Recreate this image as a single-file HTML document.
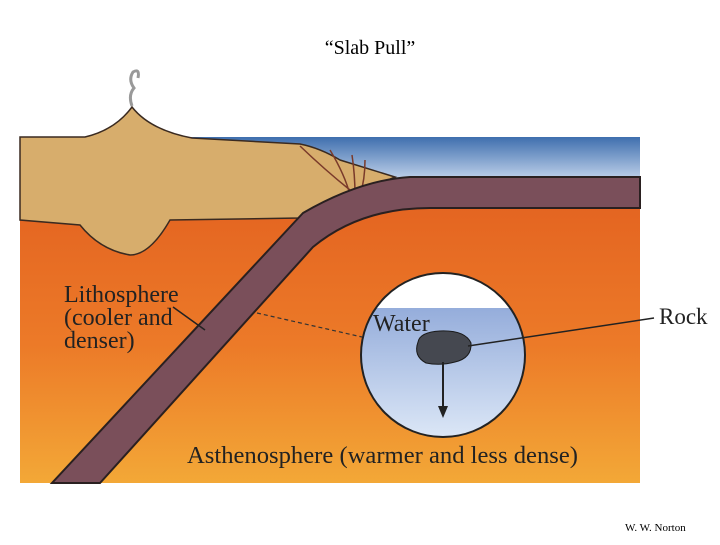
<!DOCTYPE html>
<html><head><style>body{margin:0;background:#fff;width:720px;height:540px;overflow:hidden}</style></head><body>
<svg width="720" height="540" viewBox="0 0 720 540" xmlns="http://www.w3.org/2000/svg">
<defs>
<linearGradient id="orange" x1="0" y1="0" x2="0" y2="1"><stop offset="0" stop-color="#e05a1e"/><stop offset="0.6" stop-color="#ec7a28"/><stop offset="1" stop-color="#f3a837"/></linearGradient>
<linearGradient id="sea" x1="0" y1="0" x2="0" y2="1"><stop offset="0" stop-color="#3f6fae"/><stop offset="1" stop-color="#c8d8ee"/></linearGradient>
<linearGradient id="water" x1="0" y1="0" x2="0" y2="1"><stop offset="0" stop-color="#95addb"/><stop offset="1" stop-color="#dde8f7"/></linearGradient>
<clipPath id="cc"><circle cx="443" cy="355" r="82"/></clipPath>
</defs>
<text x="370" y="54" font-family="Liberation Serif, serif" font-size="20" text-anchor="middle">“Slab Pull”</text>
<rect x="20" y="137" width="620" height="346" fill="url(#orange)"/>
<rect x="192" y="137" width="448" height="45" fill="url(#sea)"/>
<path d="M20,137 L85,137 Q115,130 132,107 Q150,130 192,138 L300,144 Q320,148 340,160 L395,177 L330,205 L300,218 L170,220 Q150,255 130,255 Q100,250 80,225 L20,220 Z" fill="#d7ad6c" stroke="#3a2a20" stroke-width="1.5"/>
<path d="M300,146 Q325,170 350,190 M330,150 Q345,175 350,195 M352,155 Q355,175 355,195 M365,160 Q365,180 360,195" stroke="#7a3a2a" stroke-width="1.5" fill="none"/>
<path d="M132,106 Q128,95 134,88 Q128,80 133,72 Q140,68 138,78" stroke="#999" stroke-width="3" fill="none"/>
<path d="M640,177 L410,177 Q360,180 303,213 L52,483 L100,483 L313,247 Q360,208 430,208 L640,208 Z" fill="#7a4f5a" stroke="#2a2020" stroke-width="2"/>
<g clip-path="url(#cc)"><rect x="360" y="270" width="170" height="170" fill="#fff"/><rect x="360" y="308" width="170" height="132" fill="url(#water)"/></g>
<circle cx="443" cy="355" r="82" fill="none" stroke="#222" stroke-width="2"/>
<path d="M418,342 Q420,332 440,331 Q465,330 471,343 Q472,358 455,362 Q440,366 426,363 Q413,356 418,342 Z" fill="#454850" stroke="#1a1a1a"/>
<line x1="443" y1="362" x2="443" y2="408" stroke="#222" stroke-width="2"/>
<polygon points="438,406 448,406 443,418" fill="#222"/>
<line x1="468" y1="346" x2="654" y2="318" stroke="#222" stroke-width="1.5"/>
<line x1="257" y1="313" x2="362" y2="337" stroke="#333" stroke-width="1.2" stroke-dasharray="4,3"/>
<line x1="173" y1="307" x2="205" y2="330" stroke="#222" stroke-width="1.5"/>
<g font-family="Liberation Serif, serif" fill="#222">
<text x="373" y="331" font-size="24">Water</text>
<text x="659" y="324" font-size="23">Rock</text>
<text x="64" y="302" font-size="24">Lithosphere</text>
<text x="64" y="325" font-size="24">(cooler and</text>
<text x="64" y="348" font-size="24">denser)</text>
<text x="187" y="463" font-size="24" textLength="391" lengthAdjust="spacingAndGlyphs">Asthenosphere (warmer and less dense)</text>
</g>
<text x="625" y="531" font-family="Liberation Serif, serif" font-size="11">W. W. Norton</text>
</svg>
</body></html>
